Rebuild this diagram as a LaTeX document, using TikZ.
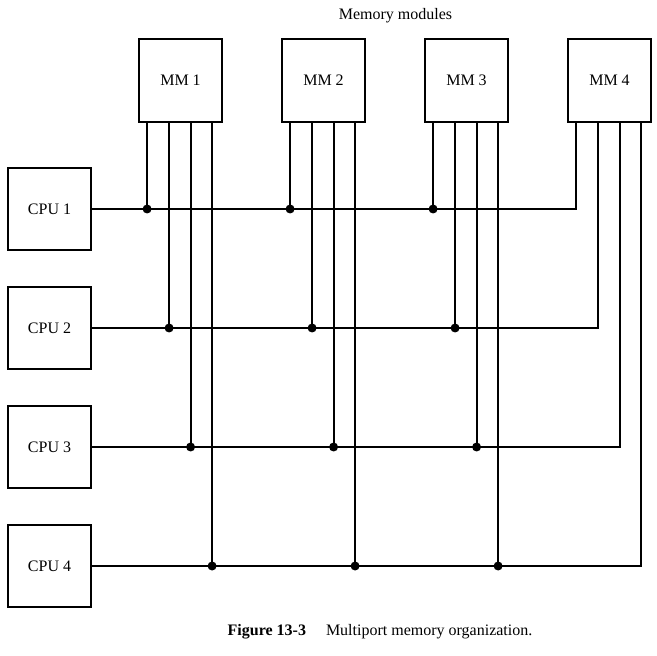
\documentclass[tikz,border=0pt]{standalone}
\usepackage{fontspec}
\setmainfont{Liberation Serif}
\usetikzlibrary{positioning, calc}
\tikzset{%
  % Specifications for style of nodes:
          base/.style = {rectangle, draw=black, line width=0.9pt,
                         minimum width=41.5pt, minimum height=41.5pt,
                         inner sep=0pt, text centered,
                         font=\fontsize{8}{10}\selectfont},
     memModule/.style = {base},
      cpuBlock/.style = {base, minimum height=41pt},
          wire/.style = {line width=0.9pt},
      junction/.style = {circle, fill=black, inner sep=0pt, minimum size=4.5pt},
}

\begin{document}
\begin{tikzpicture}[x=0.5pt, y=-0.5pt]
  \useasboundingbox (0,0) rectangle (657,656);

  \node (mm1)     [memModule] at (180.5,80.5) {MM 1};
  \node (mm2)     [memModule, right of=mm1, node distance=71.5pt] {MM 2};
  \node (mm3)     [memModule, right of=mm2, node distance=71.5pt] {MM 3};
  \node (mm4)     [memModule, right of=mm3, node distance=71.5pt] {MM 4};
  \node (modules) [above of=mm2, node distance=32.5pt, xshift=36pt,
                   font=\fontsize{8}{10}\selectfont] {Memory modules};

  \node (cpu1)    [cpuBlock] at (49.5,209) {CPU 1};
  \node (cpu2)    [cpuBlock, below of=cpu1, node distance=59.5pt] {CPU 2};
  \node (cpu3)    [cpuBlock, below of=cpu2, node distance=59.5pt] {CPU 3};
  \node (cpu4)    [cpuBlock, below of=cpu3, node distance=59.5pt] {CPU 4};

  \node (caption) at (380,632) [font=\fontsize{8}{10}\selectfont]
                  {\textbf{Figure 13-3}\quad\ Multiport memory organization.};

  % Ports along the lower side of each memory module
  \foreach \i in {1,...,4}
    \foreach \j/\dx in {1/4.5pt, 2/15.5pt, 3/26.25pt, 4/37pt}
      \coordinate (mm\i-p\j) at ($(mm\i.south west)+(\dx,0)$);

  % One bus per CPU, turning up into port j of MM 4
  \foreach \j in {1,...,4}
    \draw[wire] (cpu\j.east) -- (mm4-p\j |- cpu\j.east) -- (mm4-p\j);

  % Taps from the other modules onto the buses
  \foreach \i in {1,2,3}
    \foreach \j in {1,...,4} {
      \node (dot\i\j) [junction] at (mm\i-p\j |- cpu\j.east) {};
      \draw[wire] (mm\i-p\j) -- (dot\i\j.center);
    }
\end{tikzpicture}
\end{document}
